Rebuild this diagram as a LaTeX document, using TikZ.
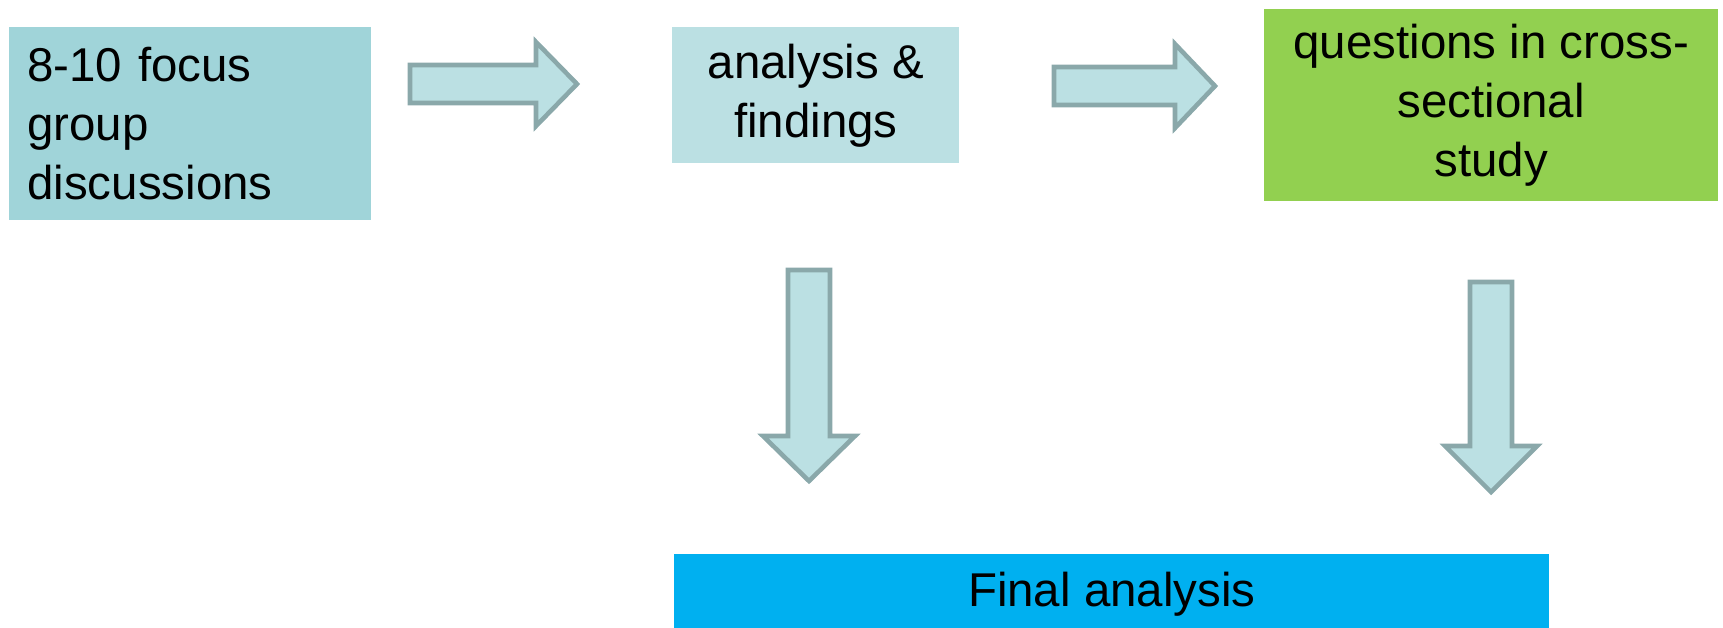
\documentclass[tikz,border=0pt]{standalone}
\usepackage{fontspec}
\setmainfont{Liberation Sans}
\usetikzlibrary{calc,positioning}

\definecolor{focusteal}{HTML}{A0D4D9}
\definecolor{paleteal}{HTML}{BBE0E3}
\definecolor{arrowgrey}{HTML}{8AA8AA}
\definecolor{surveygreen}{HTML}{92D050}
\definecolor{finalblue}{HTML}{00B0F0}

\tikzset{
  box/.style={inner sep=0pt, anchor=north west, font=\fontsize{27}{33.5}\selectfont},
  blockarrow/.style={draw=arrowgrey, fill=paleteal, line width=2.6pt, line join=miter, miter limit=10}
}

% from, to, shaft half width, head half width, head length
\newcommand{\blockarrow}[5]{%
  \path ($(#2)!#5!(#1)$) coordinate (ahead);
  \draw[blockarrow] ($(#1)!#3!90:(#2)$) -- ($(ahead)!#3!90:(#2)$) -- ($(ahead)!#4!90:(#2)$)
    -- (#2) -- ($(ahead)!#4!-90:(#2)$) -- ($(ahead)!#3!-90:(#2)$) -- ($(#1)!#3!-90:(#2)$) -- cycle;
}

\begin{document}
\begin{tikzpicture}[x=0.02cm, y=-0.02cm]
\useasboundingbox (0,0) rectangle (1723,627);

\node[box, fill=focusteal, minimum width=7.24cm, minimum height=3.86cm, text width=6.52cm, align=left] (focus) at (9,27) {8-10 focus\\group\\discussions};
\node[box, fill=paleteal, minimum width=5.74cm, minimum height=2.72cm, align=center] (findings) at (672,27) {analysis \&\\findings};
\node[box, fill=surveygreen, minimum width=9.08cm, minimum height=3.84cm, align=center] (survey) at (1264,9) {questions in cross-\\sectional\\study};
\node[box, fill=finalblue, minimum width=17.5cm, minimum height=1.6cm] (final) at (674,554) {Final analysis};

\coordinate (focus-out) at (410,84);
\coordinate (findings-in) at (577,84);
\coordinate (findings-out) at (1054,86);
\coordinate (survey-in) at (1215,86);
\coordinate (findings-down) at (809,270);
\coordinate (final-left) at (809,481);
\coordinate (survey-down) at (1491,282);
\coordinate (final-right) at (1491,492);

\blockarrow{focus-out}{findings-in}{0.38cm}{0.84cm}{0.82cm}
\blockarrow{findings-out}{survey-in}{0.38cm}{0.84cm}{0.8cm}
\blockarrow{findings-down}{final-left}{0.42cm}{0.92cm}{0.9cm}
\blockarrow{survey-down}{final-right}{0.42cm}{0.92cm}{0.92cm}

\end{tikzpicture}
\end{document}
